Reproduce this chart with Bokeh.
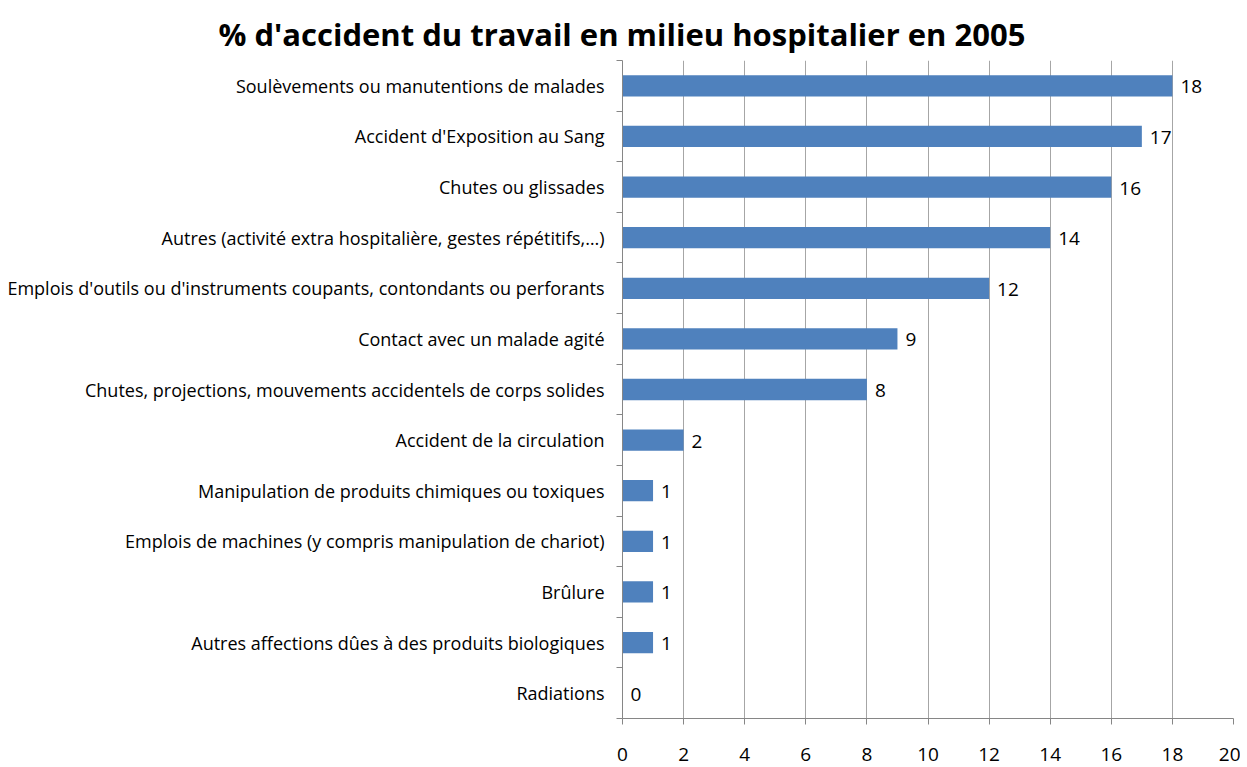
from bokeh.plotting import figure
from bokeh.models import FixedTicker, Title, ColumnDataSource, LabelSet, Range1d
from bokeh.embed import file_html
from bokeh.resources import INLINE
from bokeh.core.properties import value

title = "% d'accident du travail en milieu hospitalier en 2005"
categories = [
    "Soulèvements ou manutentions de malades",
    "Accident d'Exposition au Sang",
    "Chutes ou glissades",
    "Autres (activité extra hospitalière, gestes répétitifs,…)",
    "Emplois d'outils ou d'instruments coupants, contondants ou perforants",
    "Contact avec un malade agité",
    "Chutes, projections, mouvements accidentels de corps solides",
    "Accident de la circulation",
    "Manipulation de produits chimiques ou toxiques",
    "Emplois de machines (y compris manipulation de chariot)",
    "Brûlure",
    "Autres affections dûes à des produits biologiques",
    "Radiations",
]
values = [18, 17, 16, 14, 12, 9, 8, 2, 1, 1, 1, 1, 0]
x_ticks = [0, 2, 4, 6, 8, 10, 12, 14, 16, 18, 20]

FONT = "Open Sans"
n = len(categories)
ypos = [n - 1 - i + 0.5 for i in range(n)]

src = ColumnDataSource(dict(y=ypos, v=values, lab=[str(v) for v in values]))

p = figure(width=1240, height=767, output_backend="svg", toolbar_location=None,
           x_range=Range1d(0, 20), y_range=Range1d(0, n),
           min_border_left=622, min_border_right=7, min_border_top=0, min_border_bottom=49)
p.outline_line_color = None
p.background_fill_color = "white"
p.border_fill_color = "white"

t = Title(text=title, align="left", offset=-404, text_font=FONT, text_font_style="bold",
          text_font_size="31px", text_color="#000000", standoff=10, vertical_align="middle")
p.add_layout(t, "above")
p.min_border_top = 60

p.hbar(y="y", right="v", left=0, height=0.42, source=src, color="#4F81BD", line_color=None)

labels = LabelSet(x="v", y="y", text="lab", source=src, x_offset=8, y_offset=-1,
                  text_baseline="middle", text_align="left",
                  text_font=value(FONT), text_font_size="19px", text_color="#000000")
p.add_layout(labels)

# x axis
p.xaxis.ticker = FixedTicker(ticks=x_ticks)
p.xaxis.axis_line_color = "#868686"
p.xaxis.major_tick_line_color = "#868686"
p.xaxis.major_tick_out = 6
p.xaxis.major_tick_in = 0
p.xaxis.minor_tick_line_color = None
p.xaxis.major_label_text_font = FONT
p.xaxis.major_label_text_font_size = "19px"
p.xaxis.major_label_text_color = "#000000"
p.xaxis.major_label_standoff = 23

# y axis
p.yaxis.ticker = FixedTicker(ticks=ypos, minor_ticks=list(range(n + 1)))
p.yaxis.major_label_overrides = {y: c for y, c in zip(ypos, categories)}
p.yaxis.axis_line_color = "#868686"
p.yaxis.major_tick_line_color = None
p.yaxis.minor_tick_line_color = "#868686"
p.yaxis.minor_tick_out = 6
p.yaxis.minor_tick_in = 0
p.yaxis.major_label_text_font = FONT
p.yaxis.major_label_text_font_size = "18px"
p.yaxis.major_label_text_color = "#000000"
p.yaxis.major_label_standoff = 12

p.xgrid.ticker = FixedTicker(ticks=x_ticks[1:])
p.xgrid.grid_line_color = "#A6A6A6"
p.xgrid.grid_line_width = 1
p.ygrid.grid_line_color = None

open("out.html", "w").write(file_html(p, INLINE))
